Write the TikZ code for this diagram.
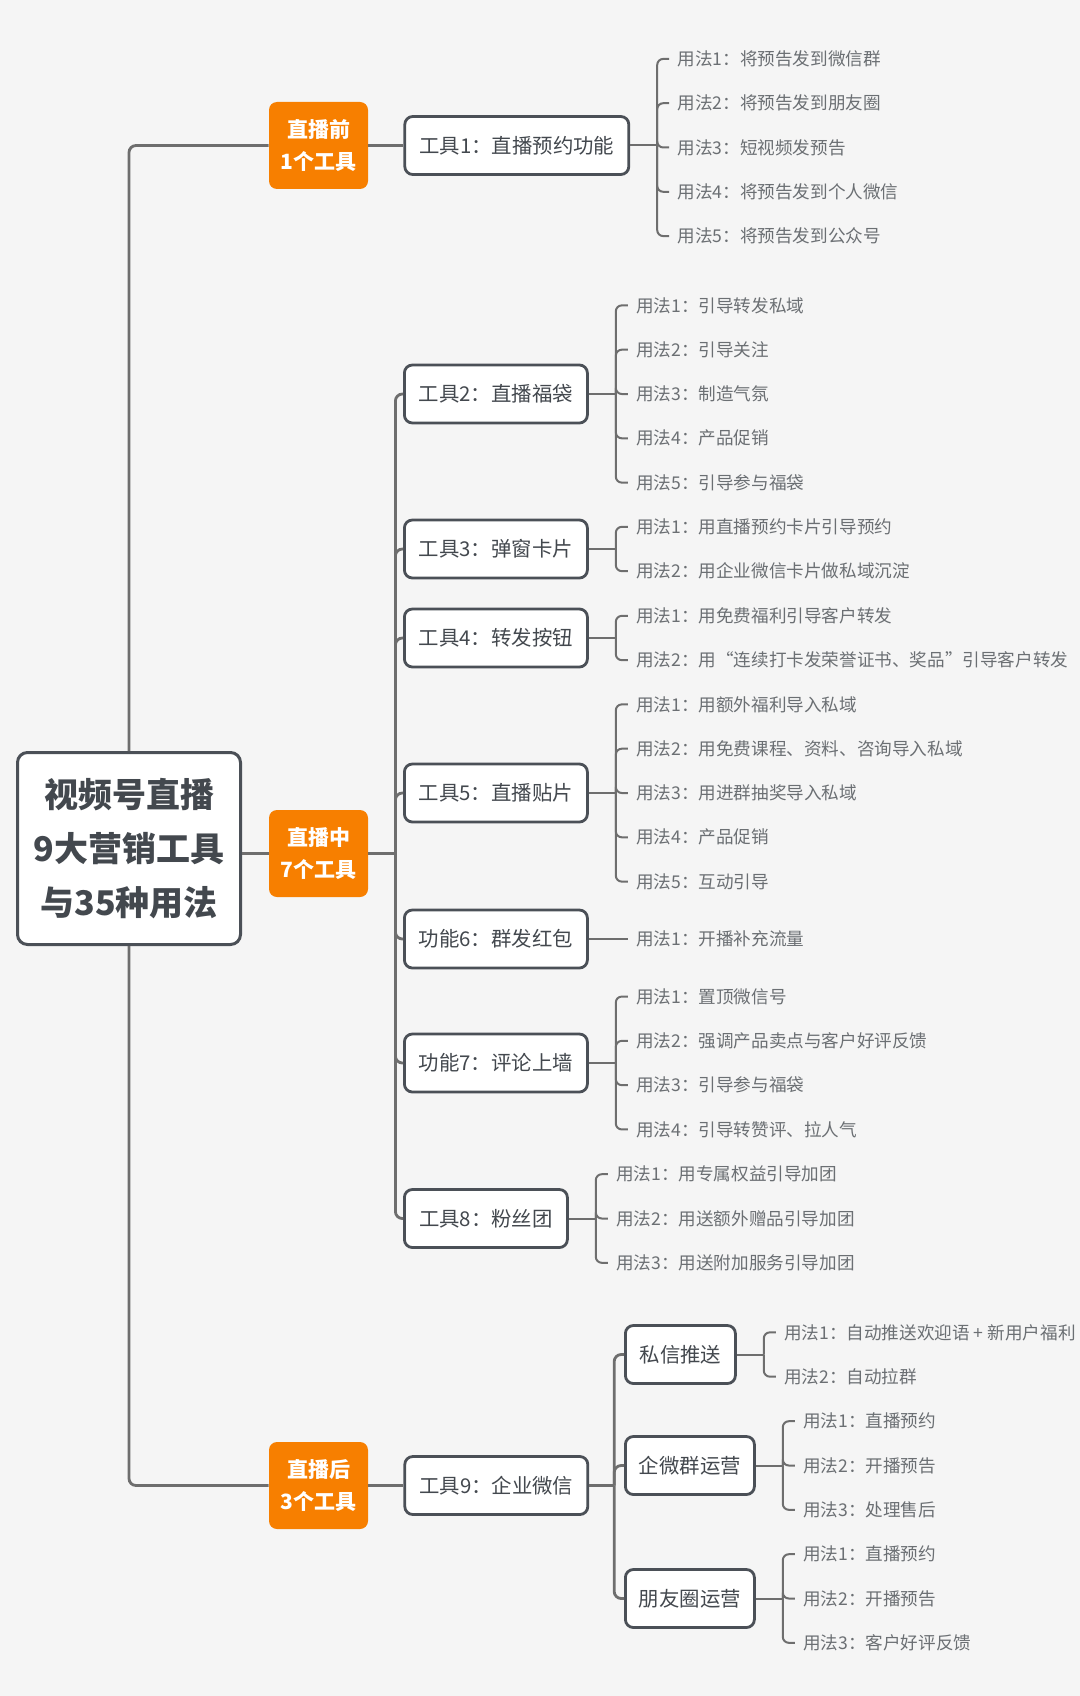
\documentclass[tikz,border=0pt]{standalone}
\usepackage{fontspec}
\setmainfont{Noto Sans CJK SC}
\usetikzlibrary{positioning, calc}
\definecolor{bgGray}{HTML}{F5F5F5}
\definecolor{liveOrange}{HTML}{F77F00}
\definecolor{boxDark}{HTML}{4B5057}
\definecolor{lineGray}{HTML}{6E6E6E}
\definecolor{textDark}{HTML}{43484E}
\definecolor{textMuted}{HTML}{6B6F73}
\tikzset{
  rootBox/.style={rectangle, rounded corners=5pt, draw=boxDark, line width=1.5pt,
                  fill=white, align=center, text=textDark,
                  font=\bfseries\fontsize{17}{27}\selectfont,
                  minimum width=111.5pt, minimum height=96pt},
  stageBox/.style={rectangle, rounded corners=4pt, fill=liveOrange, text=white,
                   align=center, font=\bfseries\fontsize{10.5}{16}\selectfont,
                   minimum width=49.5pt, minimum height=43.5pt},
  toolBox/.style={rectangle, rounded corners=4pt, draw=boxDark, line width=1.4pt,
                  fill=white, text=textDark, font=\fontsize{10.2}{12}\selectfont,
                  minimum width=91.5pt, minimum height=29pt},
  useText/.style={anchor=west, inner sep=4pt, text=textMuted,
                  font=\fontsize{8.8}{10}\selectfont},
  linkMain/.style={draw=lineGray, line width=1.4pt, rounded corners=3.5pt},
  linkUse/.style={draw=lineGray, line width=1pt, rounded corners=3pt},
}
\begin{document}
\begin{tikzpicture}[x=0.5pt, y=-0.5pt]
    \useasboundingbox (0,0) rectangle (1080,1696);
    \fill[bgGray] (0,0) rectangle (1080,1696);
    % 根节点
    \node[rootBox] (root) at (129,848.5) {视频号直播\\9大营销工具\\与35种用法};
    % 三个阶段
    \node[stageBox] (pre) at (318.5,145.5) {直播前\\1个工具};
    \node[stageBox] (mid) at (318.5,853.5) {直播中\\7个工具};
    \node[stageBox] (post) at (318.5,1485.5) {直播后\\3个工具};
    \draw[linkMain] (root.north) |- (pre.west);
    \draw[linkMain] (root.east |- mid.west) -- (mid.west);
    \draw[linkMain] (root.south) |- (post.west);
    % 直播前
    \node[toolBox, minimum width=112pt, right=17.5pt of pre] (t1) {工具1：直播预约功能};
    \draw[linkMain] (pre.east) -- (t1.west);
    % 直播中
    \foreach \n/\y/\w in {t2/394/工具2：直播福袋, t3/549/工具3：弹窗卡片,
                          t4/638/工具4：转发按钮, t5/793/工具5：直播贴片,
                          t6/939/功能6：群发红包, t7/1063/功能7：评论上墙} {
      \node[toolBox, anchor=west] (\n) at (403,\y) {\w};
    }
    \node[toolBox, anchor=west, minimum width=81.5pt] (t8) at (403,1218.5) {工具8：粉丝团};
    \coordinate[right=13.5pt of mid.east] (midBus);
    \draw[linkMain] (mid.east) -- (midBus);
    \foreach \n in {t2,t3,t4,t5,t6,t7,t8} { \draw[linkMain] (midBus) |- (\n.west); }
    % 直播后
    \node[toolBox, right=17.5pt of post] (t9) {工具9：企业微信};
    \draw[linkMain] (post.east) -- (t9.west);
    \node[toolBox, anchor=west, minimum width=55pt] (s1) at (624,1354.5) {私信推送};
    \node[toolBox, anchor=west, minimum width=64.5pt] (s2) at (624,1465.5) {企微群运营};
    \node[toolBox, anchor=west, minimum width=64.5pt] (s3) at (624,1598.5) {朋友圈运营};
    \coordinate[right=12.5pt of t9.east] (t9Bus);
    \draw[linkMain] (t9.east) -- (t9Bus);
    \foreach \n in {s1,s2,s3} { \draw[linkMain] (t9Bus) |- (\n.west); }
    % 用法
    \coordinate[right=13.5pt of t1.east] (b1);
    \draw[linkUse] (t1.east) -- (b1);
    \foreach \i/\s in {1/将预告发到微信群, 2/将预告发到朋友圈, 3/短视频发预告,
                       4/将预告发到个人微信, 5/将预告发到公众号} {
      \node[useText] (u1-\i) at ($(b1)+(12,{(\i-3)*44.3+2})$) {用法\i：\s};
      \draw[linkUse] (b1) |- (u1-\i.west);
    }
    \coordinate[right=13.5pt of t2.east] (b2);
    \draw[linkUse] (t2.east) -- (b2);
    \foreach \i/\s in {1/引导转发私域, 2/引导关注, 3/制造气氛, 4/产品促销, 5/引导参与福袋} {
      \node[useText] (u2-\i) at ($(b2)+(12,{(\i-3)*44.3})$) {用法\i：\s};
      \draw[linkUse] (b2) |- (u2-\i.west);
    }
    \coordinate[right=13.5pt of t3.east] (b3);
    \draw[linkUse] (t3.east) -- (b3);
    \foreach \i/\s in {1/用直播预约卡片引导预约, 2/用企业微信卡片做私域沉淀} {
      \node[useText] (u3-\i) at ($(b3)+(12,{(\i-1.5)*44.3})$) {用法\i：\s};
      \draw[linkUse] (b3) |- (u3-\i.west);
    }
    \coordinate[right=13.5pt of t4.east] (b4);
    \draw[linkUse] (t4.east) -- (b4);
    \foreach \i/\s in {1/用免费福利引导客户转发, 2/用“连续打卡发荣誉证书、奖品”引导客户转发} {
      \node[useText] (u4-\i) at ($(b4)+(12,{(\i-1.5)*44.3})$) {用法\i：\s};
      \draw[linkUse] (b4) |- (u4-\i.west);
    }
    \coordinate[right=13.5pt of t5.east] (b5);
    \draw[linkUse] (t5.east) -- (b5);
    \foreach \i/\s in {1/用额外福利导入私域, 2/用免费课程、资料、咨询导入私域,
                       3/用进群抽奖导入私域, 4/产品促销, 5/互动引导} {
      \node[useText] (u5-\i) at ($(b5)+(12,{(\i-3)*44.3})$) {用法\i：\s};
      \draw[linkUse] (b5) |- (u5-\i.west);
    }
    \coordinate[right=13.5pt of t6.east] (b6);
    \node[useText] (u6-1) at ($(b6)+(12,0)$) {用法1：开播补充流量};
    \draw[linkUse] (t6.east) -- (u6-1.west);
    \coordinate[right=13.5pt of t7.east] (b7);
    \draw[linkUse] (t7.east) -- (b7);
    \foreach \i/\s in {1/置顶微信号, 2/强调产品卖点与客户好评反馈, 3/引导参与福袋, 4/引导转赞评、拉人气} {
      \node[useText] (u7-\i) at ($(b7)+(12,{(\i-2.5)*44.3})$) {用法\i：\s};
      \draw[linkUse] (b7) |- (u7-\i.west);
    }
    \coordinate[right=13.5pt of t8.east] (b8);
    \draw[linkUse] (t8.east) -- (b8);
    \foreach \i/\s in {1/用专属权益引导加团, 2/用送额外赠品引导加团, 3/用送附加服务引导加团} {
      \node[useText] (u8-\i) at ($(b8)+(12,{(\i-2)*44.3})$) {用法\i：\s};
      \draw[linkUse] (b8) |- (u8-\i.west);
    }
    \coordinate[right=13.5pt of s1.east] (c1);
    \draw[linkUse] (s1.east) -- (c1);
    \foreach \i/\s in {1/自动推送欢迎语 + 新用户福利, 2/自动拉群} {
      \node[useText] (v1-\i) at ($(c1)+(12,{(\i-1.5)*44.3})$) {用法\i：\s};
      \draw[linkUse] (c1) |- (v1-\i.west);
    }
    \coordinate[right=13.5pt of s2.east] (c2);
    \draw[linkUse] (s2.east) -- (c2);
    \foreach \i/\s in {1/直播预约, 2/开播预告, 3/处理售后} {
      \node[useText] (v2-\i) at ($(c2)+(12,{(\i-2)*44.3})$) {用法\i：\s};
      \draw[linkUse] (c2) |- (v2-\i.west);
    }
    \coordinate[right=13.5pt of s3.east] (c3);
    \draw[linkUse] (s3.east) -- (c3);
    \foreach \i/\s in {1/直播预约, 2/开播预告, 3/客户好评反馈} {
      \node[useText] (v3-\i) at ($(c3)+(12,{(\i-2)*44.3})$) {用法\i：\s};
      \draw[linkUse] (c3) |- (v3-\i.west);
    }
\end{tikzpicture}
\end{document}
